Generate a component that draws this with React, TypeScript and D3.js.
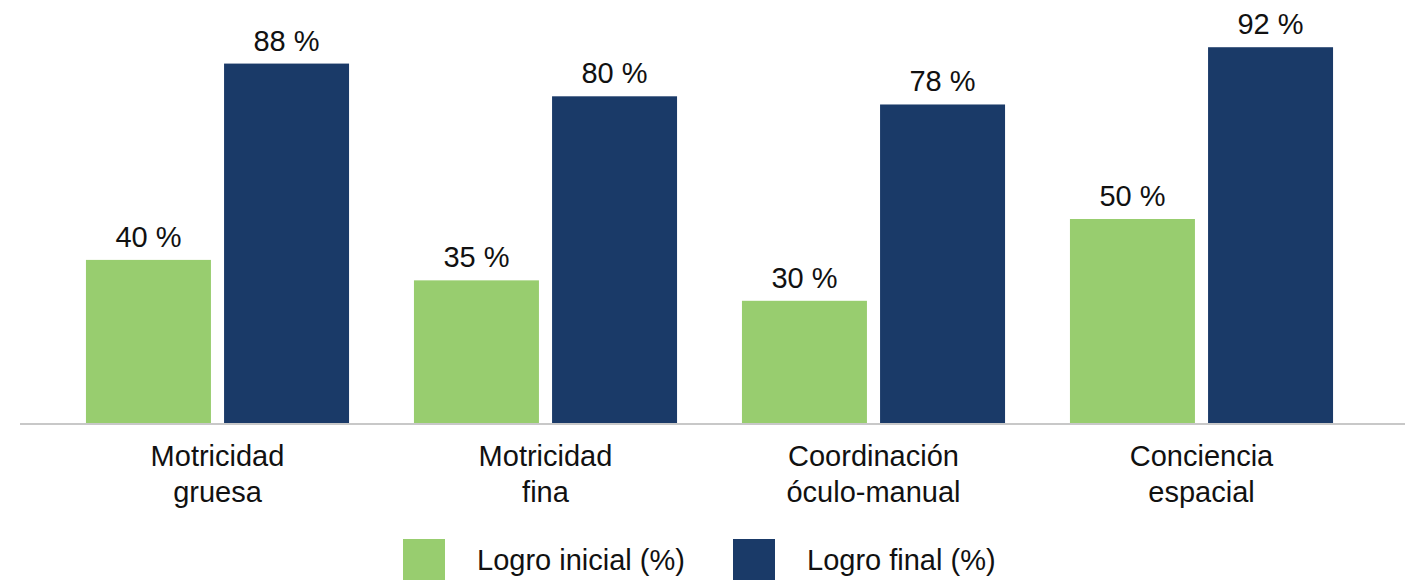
import React from 'react';
import * as d3 from 'd3';

const categories = [
  ['Motricidad', 'gruesa'],
  ['Motricidad', 'fina'],
  ['Coordinación', 'óculo-manual'],
  ['Conciencia', 'espacial'],
];
const seriesNames = ['Logro inicial (%)', 'Logro final (%)'];
const logroInicial = [40, 35, 30, 50];
const logroFinal = [88, 80, 78, 92];
const colors = ['#98cd6f', '#1a3a68'];

const width = 1425;
const height = 584;
const font = '"Liberation Sans", Arial, Helvetica, sans-serif';

export default function App() {
  const keys = categories.map((c) => c.join(' '));
  const values = [logroInicial, logroFinal];

  const x0 = d3.scaleBand().domain(keys).range([53.5, 1365.5]).padding(0);
  const x1 = d3
    .scaleBand()
    .domain(seriesNames)
    .range([0, x0.bandwidth()])
    .paddingInner(0.095)
    .paddingOuter(0.235);
  const y = d3.scaleLinear().domain([0, 100]).range([423.5, 14.5]);

  return (
    <svg
      width={width}
      height={height}
      style={{ position: 'absolute', left: 0, top: 0, background: '#fff' }}
      fontFamily={font}
    >
      {keys.map((k, i) => (
        <g key={k} transform={`translate(${x0(k)},0)`}>
          {seriesNames.map((s, j) => {
            const v = values[j][i];
            const bx = x1(s)!;
            return (
              <g key={s}>
                <rect
                  x={bx}
                  y={y(v)}
                  width={x1.bandwidth()}
                  height={y(0) - y(v)}
                  fill={colors[j]}
                />
                <text
                  x={bx + x1.bandwidth() / 2}
                  y={y(v) - 13}
                  textAnchor="middle"
                  fontSize={29}
                  fill="#111"
                >
                  {`${v} %`}
                </text>
              </g>
            );
          })}
          <text textAnchor="middle" fontSize={29} fill="#111">
            {categories[i].map((line, li) => (
              <tspan key={li} x={x0.bandwidth() / 2} y={466 + li * 36}>
                {line}
              </tspan>
            ))}
          </text>
        </g>
      ))}

      {/* baseline */}
      <line x1={20} x2={1405} y1={y(0) + 0.5} y2={y(0) + 0.5} stroke="#c8c8c8" strokeWidth={2} />

      {/* legend */}
      {seriesNames.map((s, j) => {
        const lx = [403, 733][j];
        return (
          <g key={s} transform={`translate(${lx},539)`}>
            <rect width={42} height={41} fill={colors[j]} />
            <text x={74} y={31} fontSize={29} fill="#111">
              {s}
            </text>
          </g>
        );
      })}
    </svg>
  );
}
